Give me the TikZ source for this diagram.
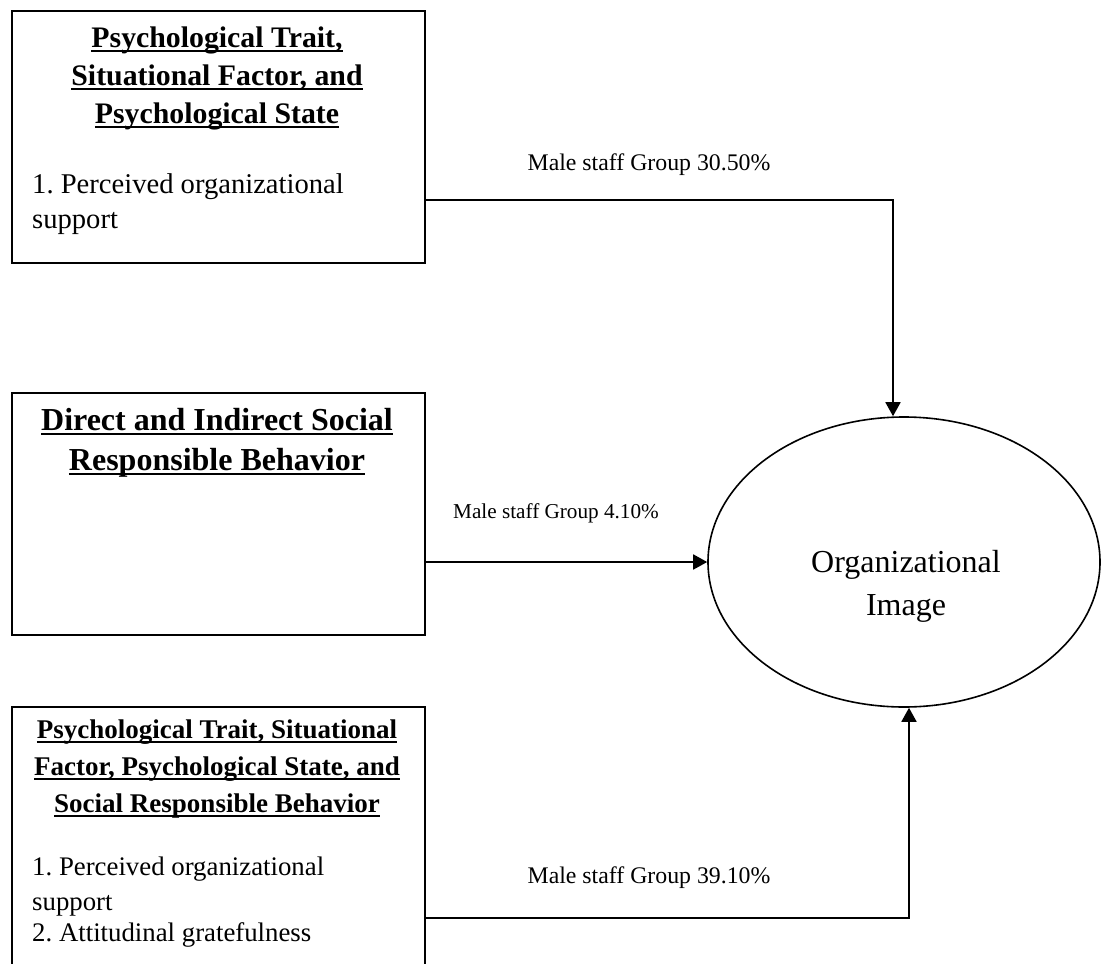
\documentclass[tikz,border=0pt]{standalone}
\usepackage{fontspec}
\setmainfont{Liberation Serif}
\usetikzlibrary{arrows.meta,shapes.geometric}
\frenchspacing
% heading underline: a 2pt rule set just below the baseline
\newcommand{\headline}[1]{\setbox0\hbox{#1}\rlap{\rule[-4.5pt]{\wd0}{2pt}}\box0}
\begin{document}
\begin{tikzpicture}[x=1pt,y=-1pt,
  framebox/.style={draw,line width=1.8pt,rectangle,inner sep=0pt,anchor=north west,minimum width=413pt},
  headtxt/.style={anchor=base,inner sep=0pt},
  bodytxt/.style={anchor=base west,inner sep=0pt},
  lbl/.style={anchor=base,inner sep=0pt},
  link/.style={line width=1.8pt,-{Triangle[length=14pt,width=15pt]}}]
\useasboundingbox (0,0) rectangle (1104,964);
\clip (0,0) rectangle (1104,964);

% left-hand boxes
\node[framebox,minimum height=252pt] (b1) at (11,10) {};
\node[framebox,minimum height=242pt] (b2) at (11,392) {};
\node[framebox,minimum height=300pt] (b3) at (11,706) {};

% box 1 text
\node[headtxt,font=\bfseries\fontsize{29.8}{34}\selectfont] (h1a) at (217,47) {\headline{Psychological Trait,}};
\node[headtxt,font=\bfseries\fontsize{29.8}{34}\selectfont] (h1b) at (217,85) {\headline{Situational Factor, and}};
\node[headtxt,font=\bfseries\fontsize{29.8}{34}\selectfont] (h1c) at (217,123) {\headline{Psychological State}};
\node[bodytxt,font=\fontsize{28.6}{34}\selectfont] (t1a) at (32,193) {1. Perceived organizational};
\node[bodytxt,font=\fontsize{28.6}{34}\selectfont] (t1b) at (32,228) {support};

% box 2 text
\node[headtxt,font=\bfseries\fontsize{32}{38}\selectfont] (h2a) at (217,430) {\headline{Direct and Indirect Social}};
\node[headtxt,font=\bfseries\fontsize{32}{38}\selectfont] (h2b) at (217,470) {\headline{Responsible Behavior}};

% box 3 text
\node[headtxt,font=\bfseries\fontsize{27}{32}\selectfont] (h3a) at (217,738) {\headline{Psychological Trait, Situational}};
\node[headtxt,font=\bfseries\fontsize{27}{32}\selectfont] (h3b) at (217,775) {\headline{Factor, Psychological State, and}};
\node[headtxt,font=\bfseries\fontsize{27}{32}\selectfont] (h3c) at (217,812) {\headline{Social Responsible Behavior}};
\node[bodytxt,font=\fontsize{26.8}{32}\selectfont] (t3a) at (32,875) {1. Perceived organizational};
\node[bodytxt,font=\fontsize{26.8}{32}\selectfont] (t3b) at (32,910) {support};
\node[bodytxt,font=\fontsize{26.8}{32}\selectfont] (t3c) at (32,941) {2. Attitudinal gratefulness};

% outcome
\node[draw,ellipse,line width=1.6pt,minimum width=392pt,minimum height=290pt,inner sep=0pt] (org) at (904,562) {};
\node[headtxt,font=\fontsize{32}{38}\selectfont] (o1) at (906,572) {Organizational};
\node[headtxt,font=\fontsize{32}{38}\selectfont] (o2) at (906,615) {Image};

% connectors
\coordinate (c1) at (893,200);
\coordinate (c3) at (909,918);
\draw[link] (b1.east |- c1) -- (c1) -- (c1 |- org.north);
\draw[link] (b2.east |- org.west) -- (org.west);
\draw[link] (b3.east |- c3) -- (c3) -- (c3 |- org.south);

% path labels
\node[lbl,font=\fontsize{23.8}{28}\selectfont] (l1) at (649,170) {Male staff Group 30.50\%};
\node[lbl,font=\fontsize{21.2}{26}\selectfont] (l2) at (556,518) {Male staff Group 4.10\%};
\node[lbl,font=\fontsize{23.8}{28}\selectfont] (l3) at (649,883) {Male staff Group 39.10\%};
\end{tikzpicture}
\end{document}
